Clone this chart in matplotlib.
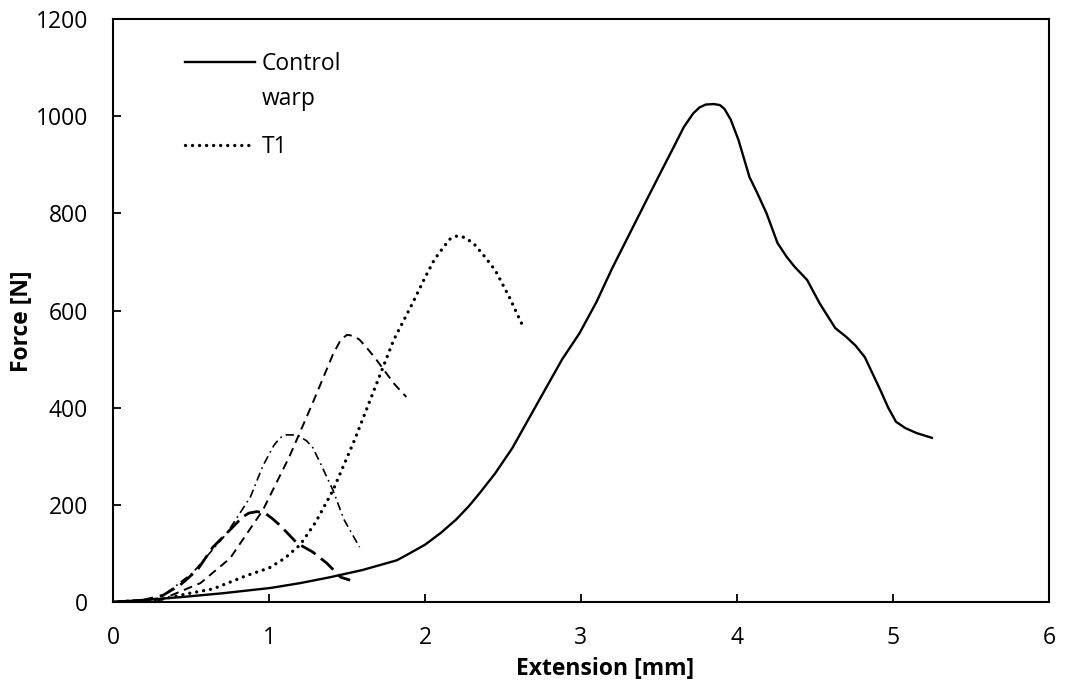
import matplotlib
matplotlib.use("Agg")
from matplotlib import pyplot as plt

# control warp (solid)
control_x = [0, 0.2, 0.43, 0.7, 1.01, 1.2, 1.39, 1.6, 1.82, 1.9, 2.0, 2.1, 2.2, 2.28, 2.35,
             2.45, 2.56, 2.67, 2.78, 2.88, 2.99, 3.1, 3.2, 3.31, 3.42, 3.52, 3.6, 3.66,
             3.72, 3.76, 3.80, 3.85, 3.89, 3.92, 3.96, 4.01, 4.08, 4.13, 4.19, 4.26, 4.32,
             4.37, 4.45, 4.53, 4.63, 4.70, 4.76, 4.82, 4.87, 4.92, 4.97, 5.02, 5.08, 5.15,
             5.25]
control_y = [0, 4, 10, 18, 29, 39, 51, 66, 86, 100, 118, 142, 170, 197, 224,
             265, 317, 380, 443, 500, 553, 618, 687, 757, 827, 890, 940, 978,
             1006, 1018, 1024, 1025, 1023, 1015, 993, 951, 875, 842, 800, 739, 710,
             690, 663, 615, 564, 546, 528, 504, 470, 436, 400, 371, 358, 348,
             338]

# T1 (dotted)
t1_x = [0, 0.3, 0.49, 0.64, 0.86, 1.0, 1.1, 1.2, 1.3, 1.41, 1.55, 1.69, 1.8, 1.92, 2.0,
        2.06, 2.12, 2.16, 2.20, 2.24, 2.28, 2.32, 2.38, 2.45, 2.54, 2.63]
t1_y = [0, 5, 18, 27, 55, 70, 90, 118, 165, 230, 335, 450, 540, 615, 668,
        705, 731, 747, 753, 752, 745, 735, 712, 683, 628, 566]

# T2 (dashed)
t2_x = [0, 0.3, 0.56, 0.75, 0.96, 1.13, 1.28, 1.41, 1.46, 1.50, 1.54, 1.58, 1.63, 1.69,
        1.80, 1.88]
t2_y = [0, 4, 39, 90, 189, 299, 410, 510, 540, 550, 548, 540, 522, 498, 450, 422]

# T3 (dash-dot)
t3_x = [0, 0.3, 0.51, 0.73, 0.88, 0.96, 1.03, 1.07, 1.11, 1.16, 1.2, 1.24, 1.28, 1.33,
        1.41, 1.48, 1.58]
t3_y = [0, 8, 60, 142, 216, 280, 322, 338, 344, 344, 340, 332, 318, 285, 230, 170, 113]

# T4 (long dash)
t4_x = [0, 0.2, 0.32, 0.43, 0.54, 0.64, 0.73, 0.83, 0.87, 0.92, 0.97, 1.02, 1.07, 1.18,
        1.28, 1.37, 1.46, 1.52]
t4_y = [0, 4, 14, 35, 66, 113, 142, 175, 183, 186, 184, 172, 158, 121, 103, 80, 51, 45]

plt.rcParams['font.family'] = ['Open Sans', 'DejaVu Sans']
fs = 16.5

fig = plt.figure(figsize=(10.67, 6.92), dpi=100)
ax = fig.add_axes([0.106, 0.130, 0.877, 0.8425])

ax.plot(control_x, control_y, color='black', lw=1.7, label='Control')
ax.plot(t1_x, t1_y, color='black', lw=2.4, linestyle=(0, (0.01, 2.1)),
        dash_capstyle='round', label='T1')
ax.plot(t2_x, t2_y, color='black', lw=1.4, linestyle=(0, (4.5, 3)))
ax.plot(t3_x, t3_y, color='black', lw=1.2, linestyle=(0, (5, 2.5, 1, 2.5)))
ax.plot(t4_x, t4_y, color='black', lw=2.0, linestyle=(0, (6, 2.5)))

ax.set_xlim(0, 6)
ax.set_ylim(0, 1200)
ax.set_xticks(range(0, 7))
ax.set_yticks(range(0, 1201, 200))
ax.tick_params(direction='in', length=6, width=1.3, labelsize=fs)
ax.tick_params(axis='x', pad=17)
ax.tick_params(axis='y', pad=18)
for s in ax.spines.values():
    s.set_linewidth(1.5)

ax.set_xlabel('Extension [mm]', fontsize=fs, fontweight='bold', va='center')
ax.set_ylabel('Force [N]', fontsize=fs, fontweight='bold', va='center')
ax.xaxis.set_label_coords(0.526, -0.115)
ax.yaxis.set_label_coords(-0.097, 0.482)

# legend: second line of the control label is drawn as its own text
leg = ax.legend(loc='upper left', bbox_to_anchor=(0.077, 0.943), frameon=False,
                fontsize=fs, handlelength=3.05, handletextpad=0.3, labelspacing=2.57,
                borderpad=0, borderaxespad=0)
ax.text(0.1592, 0.8525, 'warp', transform=ax.transAxes, fontsize=fs, va='baseline')

fig.savefig('out.png', dpi=100)
